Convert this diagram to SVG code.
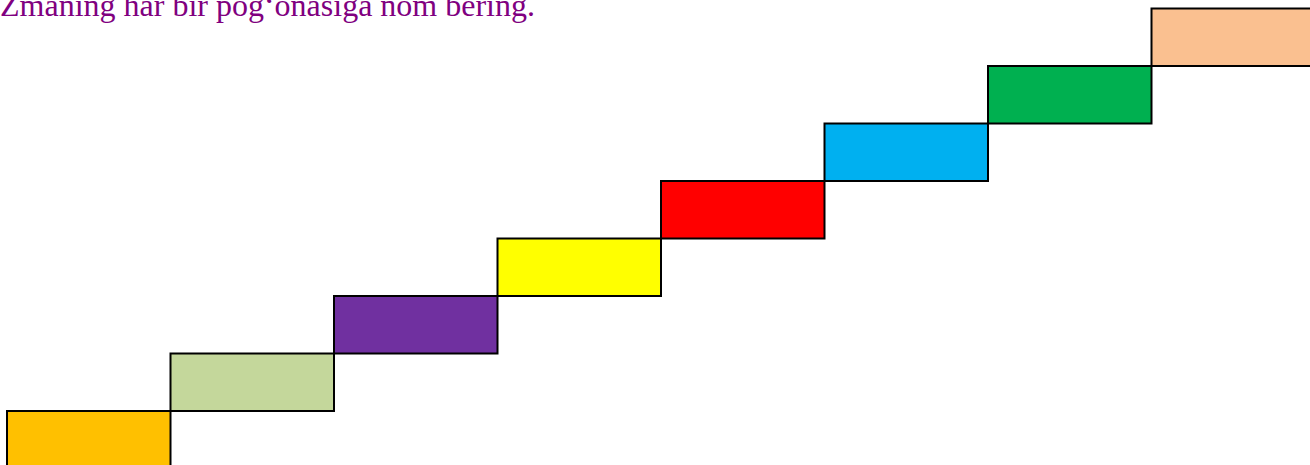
<svg xmlns="http://www.w3.org/2000/svg" width="1310" height="465" viewBox="0 0 1310 465">
<style>
.step{stroke:#000;stroke-width:2}
.title{font-family:"Liberation Serif","Times New Roman",serif;font-size:32px;fill:#800080}
</style>
<rect width="1310" height="465" fill="#fff"/>
<text class="title" x="0" y="16">Zmaning har bir pog‘onasiga nom bering.</text>
<g id="step1"><rect class="step" x="7" y="411" width="163.5" height="60" fill="#FFC000"/></g>
<g id="step2"><rect class="step" x="170.5" y="353.5" width="163.5" height="57.5" fill="#C4D79B"/></g>
<g id="step3"><rect class="step" x="334" y="296" width="163.5" height="57.5" fill="#7030A0"/></g>
<g id="step4"><rect class="step" x="497.5" y="238.5" width="163.5" height="57.5" fill="#FFFF00"/></g>
<g id="step5"><rect class="step" x="661" y="181" width="163.5" height="57.5" fill="#FF0000"/></g>
<g id="step6"><rect class="step" x="824.5" y="123.5" width="163.5" height="57.5" fill="#00B0F0"/></g>
<g id="step7"><rect class="step" x="988" y="66" width="163.5" height="57.5" fill="#00B050"/></g>
<g id="step8"><rect class="step" x="1151.5" y="8.5" width="163.5" height="57.5" fill="#FAC090"/></g>
<g id="connectors"/>
</svg>
